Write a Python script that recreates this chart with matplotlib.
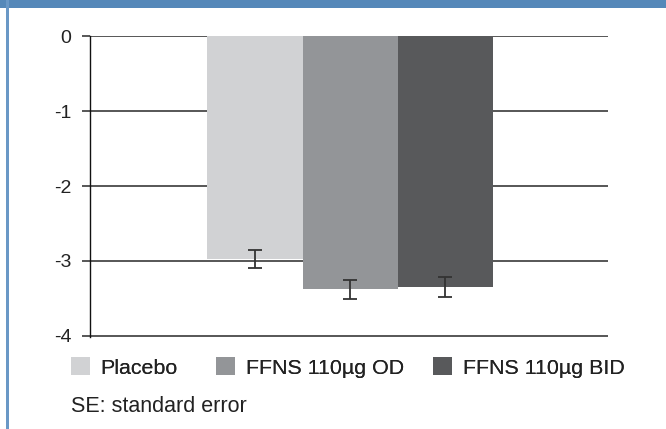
import matplotlib
matplotlib.use("Agg")
import matplotlib.pyplot as plt
from matplotlib.patches import Rectangle

plt.rcParams['font.family'] = ['Liberation Sans', 'DejaVu Sans']
plt.rcParams['axes.unicode_minus'] = False

# Data
categories = ["Placebo", "FFNS 110µg OD", "FFNS 110µg BID"]
values = [-2.97, -3.38, -3.35]
se = [0.12, 0.125, 0.13]
colors = ["#d1d2d4", "#939598", "#58595b"]
yticks = [0, -1, -2, -3, -4]
note = "SE: standard error"

W, H = 666, 429
fig = plt.figure(figsize=(W / 100, H / 100), dpi=100)
fig.patch.set_facecolor("white")

# header bar and left border
fig.patches.append(Rectangle((0, 1 - 7.5 / H), 1, 7.5 / H, transform=fig.transFigure,
                             facecolor="#5588b9", edgecolor="none", zorder=0))
fig.patches.append(Rectangle((6 / W, 0), 3 / W, 1, transform=fig.transFigure,
                             facecolor="#6a98c6", edgecolor="none", zorder=0))

ax = fig.add_axes([89.5 / W, 1 - 336.5 / H, (608 - 89.5) / W, (336.5 - 35.7) / H])
x = list(range(len(categories)))
bars = ax.bar(x, values, width=1.0, color=colors, zorder=3, label=categories)
ax.errorbar(x, values, yerr=se, fmt="none", ecolor="#333333", elinewidth=1.3,
            capsize=5, capthick=1.3, zorder=4)

ax.set_xlim(-1.738, 3.707)
ax.set_ylim(-4.01, 0.01)
ax.set_yticks(yticks)
ax.set_yticklabels([str(t) for t in yticks], fontsize=14, color="#222222")
ax.set_xticks([])
ax.grid(axis="y", color="#3a3a3a", linewidth=1.2, zorder=1)
ax.set_axisbelow(True)
ax.tick_params(axis="y", length=6, width=1.2, color="#3a3a3a", pad=7)
for s in ["top", "right", "bottom"]:
    ax.spines[s].set_visible(False)
ax.spines["left"].set_color("#111111")
ax.spines["left"].set_linewidth(1.0)

# legend entries, placed individually as in the reference
legend_x = [71, 216, 433]
for bar, lab, lx in zip(bars, categories, legend_x):
    leg = fig.legend([bar], [lab], loc="center left",
                     bbox_to_anchor=(lx / W, 1 - 367.5 / H), frameon=False,
                     fontsize=15.4, handlelength=0.88, handleheight=0.88,
                     handletextpad=0.5, borderpad=0, borderaxespad=0,
                     labelcolor="#222222")
    fig.add_artist(leg)

fig.text(71 / W, 1 - 407 / H, note, fontsize=15.5, va="center", ha="left",
         color="#222222")

fig.savefig("out.png", dpi=100)
